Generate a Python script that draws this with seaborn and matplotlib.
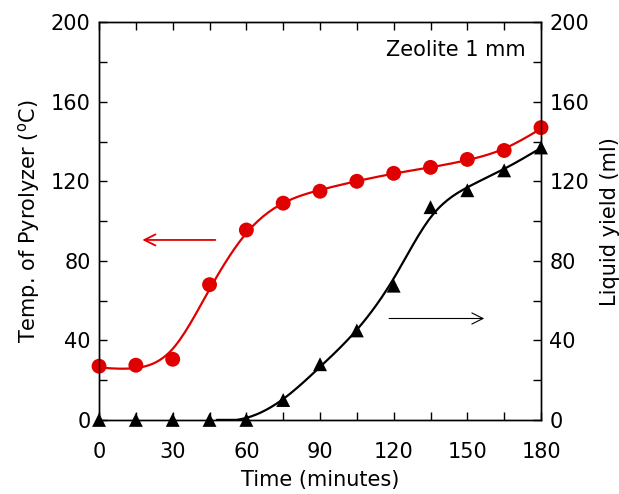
import numpy as np
import pandas as pd
import matplotlib
matplotlib.use("Agg")
import matplotlib.pyplot as plt
import seaborn as sns

# data
time_min = [0, 15, 30, 45, 60, 75, 90, 105, 120, 135, 150, 165, 180]
temp_c = [27, 27.5, 30.5, 68, 95.5, 109, 115, 120, 124, 127, 131, 135.5, 147]
liquid_ml = [0, 0, 0, 0, 0, 10, 28, 45, 67.5, 107, 115.5, 125.5, 137]
x_ticks = [0, 30, 60, 90, 120, 150, 180]
y_ticks = [0, 40, 80, 120, 160, 200]

RED = "#e00000"


def smooth_curve(x, y, lam=300.0):
    """Penalised (smoothing-spline like) fit on a 1-minute grid."""
    x = np.asarray(x, float)
    y = np.asarray(y, float)
    grid = np.arange(x[0], x[-1] + 0.5, 1.0)
    n = len(grid)
    w = np.zeros(n)
    target = np.zeros(n)
    idx = np.searchsorted(grid, x)
    w[idx] = 1.0
    target[idx] = y
    d2 = np.diff(np.eye(n), 2, axis=0)
    f = np.linalg.solve(np.diag(w) + lam * d2.T @ d2, w * target)
    return grid, f


sns.set_style("ticks")
plt.rcParams["font.family"] = ["DejaVu Sans"]
plt.rcParams["xtick.direction"] = "in"
plt.rcParams["ytick.direction"] = "in"
plt.rcParams["text.color"] = "black"
plt.rcParams["axes.labelcolor"] = "black"
plt.rcParams["xtick.labelcolor"] = "black"
plt.rcParams["ytick.labelcolor"] = "black"

df = pd.DataFrame({"time": time_min, "temp": temp_c, "liquid": liquid_ml})

fig = plt.figure(figsize=(6.19, 4.94), dpi=100)
ax = fig.add_axes([0.160, 0.150, 0.714, 0.805])
ax2 = ax.twinx()

# smooth curves
gx, gy = smooth_curve(time_min, temp_c)
ax.plot(gx, gy, color=RED, lw=1.6, zorder=2)
bx, by = smooth_curve(time_min[3:], liquid_ml[3:])
keep = bx >= 48
ax2.plot(bx[keep], np.maximum(by[keep], 0), color="black", lw=1.6, zorder=2)

sns.scatterplot(data=df, x="time", y="temp", ax=ax, color=RED, s=115,
                marker="o", edgecolor="none", zorder=3, clip_on=False)
sns.scatterplot(data=df, x="time", y="liquid", ax=ax2, color="black", s=100,
                marker="^", edgecolor="none", zorder=3, clip_on=False)

for a in (ax, ax2):
    a.set_xlim(0, 180)
    a.set_ylim(0, 200)
    a.set_yticks(y_ticks)
    a.set_yticks(np.arange(0, 201, 20), minor=True)
    for s in a.spines.values():
        s.set_visible(True)
        s.set_linewidth(1.0)
        s.set_color("black")

ax.set_xticks(x_ticks)
ax.set_xticks(np.arange(0, 181, 15), minor=True)
ax.tick_params(axis="both", which="both", labelsize=15, top=True, right=False,
               length=6, width=1, color="black", pad=6)
ax.tick_params(axis="x", which="both", pad=16)
ax2.tick_params(axis="y", which="both", labelsize=15, length=6, width=1, pad=6,
                color="black")

ax.set_xlabel("Time (minutes)", fontsize=15, labelpad=6)
ax.set_ylabel("Temp. of Pyrolyzer ($^{\\rm o}$C)", fontsize=15, labelpad=6)
ax2.set_ylabel("Liquid yield (ml)", fontsize=15, labelpad=8)

ax.text(0.965, 0.93, "Zeolite 1 mm", transform=ax.transAxes, ha="right",
        va="center", fontsize=15)

# direction arrows
ax.annotate("", xy=(16.5, 90.5), xytext=(48.5, 90.5),
            arrowprops=dict(arrowstyle="->,head_length=0.8,head_width=0.4",
                            color=RED, lw=1.3))
ax.annotate("", xy=(158, 51), xytext=(117, 51),
            arrowprops=dict(arrowstyle="->,head_length=0.8,head_width=0.4",
                            color="black", lw=0.8))

fig.savefig("out.png", dpi=100)
